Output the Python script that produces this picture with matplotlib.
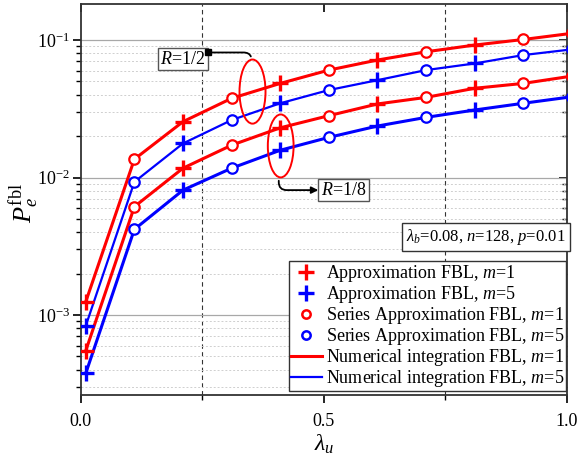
import matplotlib
matplotlib.use("Agg")
import matplotlib.pyplot as plt
from matplotlib.patches import Ellipse
from matplotlib.lines import Line2D
from matplotlib.ticker import LogLocator, MultipleLocator, NullFormatter

plt.rcParams['font.family'] = ['Liberation Serif', 'DejaVu Serif']
plt.rcParams['mathtext.fontset'] = 'custom'
plt.rcParams['mathtext.rm'] = 'Liberation Serif'
plt.rcParams['mathtext.it'] = 'Liberation Serif:italic'

# lambda_u sample points
lam_u = [0.01, 0.11, 0.21, 0.31, 0.41, 0.51, 0.61, 0.71, 0.81, 0.91, 1.01]

# P_e^fbl, R = 1/2
pe_half_m1 = [1.25e-3, 0.0136, 0.0255, 0.0377, 0.0484, 0.0605, 0.0716, 0.0822, 0.092, 0.101, 0.112]
pe_half_m5 = [8.35e-4, 0.0093, 0.0177, 0.0262, 0.0347, 0.0433, 0.0511, 0.0605, 0.0676, 0.0778, 0.0856]
# P_e^fbl, R = 1/8
pe_eighth_m1 = [5.5e-4, 0.00614, 0.0117, 0.0172, 0.0230, 0.0282, 0.0343, 0.0383, 0.0446, 0.0484, 0.0547]
pe_eighth_m5 = [3.77e-4, 0.0042, 0.0081, 0.0117, 0.0158, 0.0196, 0.0237, 0.0274, 0.0310, 0.0347, 0.0387]

# which samples carry '+' (approximation) and 'o' (series approximation) markers
approx_idx = [0, 2, 4, 6, 8]
series_idx = [1, 3, 5, 7, 9, 10]

legend_labels = [
    "Approximation FBL, $m$=1",
    "Approximation FBL, $m$=5",
    "Series Approximation FBL, $m$=1",
    "Series Approximation FBL, $m$=5",
    "Numerical integration FBL, $m$=1",
    "Numerical integration FBL, $m$=5",
]

RED = "#ff0000"
BLUE = "#0000ff"

fig = plt.figure(figsize=(5.78, 4.66), dpi=100)
ax = fig.add_axes([0.140, 0.1524, 0.841, 0.839])

curves = [
    (pe_half_m1, RED, 2.2),
    (pe_half_m5, BLUE, 1.6),
    (pe_eighth_m1, RED, 2.2),
    (pe_eighth_m5, BLUE, 2.2),
]

for vals, col, lw in curves:
    ax.plot(lam_u, vals, color=col, lw=lw, zorder=3)
    ax.plot([lam_u[i] for i in approx_idx], [vals[i] for i in approx_idx],
            ls="none", marker="+", ms=11, mew=2.4, color=col, zorder=4)
    ax.plot([lam_u[i] for i in series_idx], [vals[i] for i in series_idx],
            ls="none", marker="o", ms=7.5, mew=1.6, mfc="white", mec=col, zorder=4)

ax.set_yscale("log")
ax.set_xlim(0, 1.0)
ax.set_ylim(2.62e-4, 0.183)

# grid
ax.yaxis.set_major_locator(LogLocator(base=10))
ax.yaxis.set_minor_locator(LogLocator(base=10, subs=range(2, 10)))
ax.yaxis.set_minor_formatter(NullFormatter())
ax.grid(True, which="major", axis="y", color="#a8a8a8", lw=0.9, zorder=0)
ax.grid(True, which="minor", axis="y", color="#cfcfcf", lw=0.7, ls=(0, (2, 2)), zorder=0)
for xv in (0.25, 0.75):
    ax.axvline(xv, color="#333333", lw=0.8, ls=(0, (4, 3)), zorder=1)

ax.xaxis.set_major_locator(MultipleLocator(0.5))
ax.xaxis.set_minor_locator(MultipleLocator(0.25))
ax.xaxis.set_major_formatter(plt.FuncFormatter(lambda v, p: f"{v:.1f}"))

ax.tick_params(axis="both", which="major", direction="out", length=6, width=1.2,
               labelsize=13, top=False, right=False)
ax.tick_params(axis="x", which="major", pad=7)
ax.tick_params(axis="y", which="major", pad=2)
ax.tick_params(axis="both", which="minor", direction="out", length=3.5, width=1.0,
               top=False, right=False)
for sp in ax.spines.values():
    sp.set_linewidth(1.3)
    sp.set_color("#333333")

# inward ticks on top and right (kept underneath the main axes contents)
axr = ax.twinx()
axr.set_yscale("log")
axr.set_ylim(ax.get_ylim())
axr.yaxis.set_minor_locator(LogLocator(base=10, subs=range(2, 10)))
axr.tick_params(which="both", direction="in", labelright=False)
axr.tick_params(which="major", length=6, width=1.2)
axr.tick_params(which="minor", length=3.5, width=1.0)
axt = ax.twiny()
axt.set_xlim(ax.get_xlim())
axt.xaxis.set_major_locator(MultipleLocator(0.5))
axt.tick_params(which="both", direction="in", labeltop=False, length=6, width=1.2)
for a in (axr, axt):
    for sp in a.spines.values():
        sp.set_visible(False)
    a.set_zorder(ax.get_zorder() - 1)
ax.patch.set_visible(False)

ax.set_xlabel(r"$\lambda_u$", fontsize=17, labelpad=2)
ax.set_ylabel(r"$P_e^{\mathrm{fbl}}$", fontsize=19)
ax.yaxis.set_label_coords(-0.082, 0.49)

# ellipses grouping the code-rate pairs
ax.add_patch(Ellipse((0.353, 0.776), 0.0535, 0.164, transform=ax.transAxes,
                     fill=False, edgecolor=RED, lw=1.4, zorder=5))
ax.add_patch(Ellipse((0.411, 0.637), 0.053, 0.161, transform=ax.transAxes,
                     fill=False, edgecolor=RED, lw=1.4, zorder=5))

box = dict(boxstyle="square,pad=0.15", fc="white", ec="#555555", lw=1.0)
ax.text(0.210, 0.859, "$R$=1/2", transform=ax.transAxes, fontsize=13,
        ha="center", va="center", bbox=box, zorder=6)
ax.text(0.541, 0.524, "$R$=1/8", transform=ax.transAxes, fontsize=13,
        ha="center", va="center", bbox=box, zorder=6)

ax.annotate("", xy=(0.351, 0.859), xytext=(0.259, 0.876),
            xycoords="axes fraction", textcoords="axes fraction",
            arrowprops=dict(arrowstyle="-", color="k", lw=1.3,
                            connectionstyle="angle,angleA=0,angleB=90,rad=8"), zorder=6)
ax.plot([0.262], [0.876], marker="s", ms=4, color="k", transform=ax.transAxes,
        zorder=7, clip_on=False)
ax.annotate("", xy=(0.494, 0.524), xytext=(0.407, 0.555),
            xycoords="axes fraction", textcoords="axes fraction",
            arrowprops=dict(arrowstyle="-|>", color="k", lw=1.3, mutation_scale=10,
                            connectionstyle="angle,angleA=-90,angleB=0,rad=8"), zorder=6)

ax.text(0.997, 0.404, r"$\lambda_b$=0.08, $n$=128, $p$=0.01", transform=ax.transAxes,
        fontsize=12, ha="right", va="center",
        bbox=dict(boxstyle="square,pad=0.25", fc="white", ec="#333333", lw=1.0), zorder=6)

handles = [
    Line2D([], [], ls="none", marker="+", ms=11, mew=2.4, color=RED),
    Line2D([], [], ls="none", marker="+", ms=11, mew=2.4, color=BLUE),
    Line2D([], [], ls="none", marker="o", ms=6, mew=1.8, mfc="white", mec=RED),
    Line2D([], [], ls="none", marker="o", ms=6, mew=1.8, mfc="white", mec=BLUE),
    Line2D([], [], color=RED, lw=2.2),
    Line2D([], [], color=BLUE, lw=1.6),
]
leg = ax.legend(handles, legend_labels, loc="lower right", bbox_to_anchor=(0.998, 0.01),
                fontsize=13, frameon=True, fancybox=False, framealpha=1,
                edgecolor="#333333", borderpad=0.1, labelspacing=0.0,
                handlelength=1.75, handletextpad=0.2, borderaxespad=0)
leg.get_frame().set_linewidth(1.0)
leg.set_zorder(8)

fig.savefig("out.png", dpi=100)
